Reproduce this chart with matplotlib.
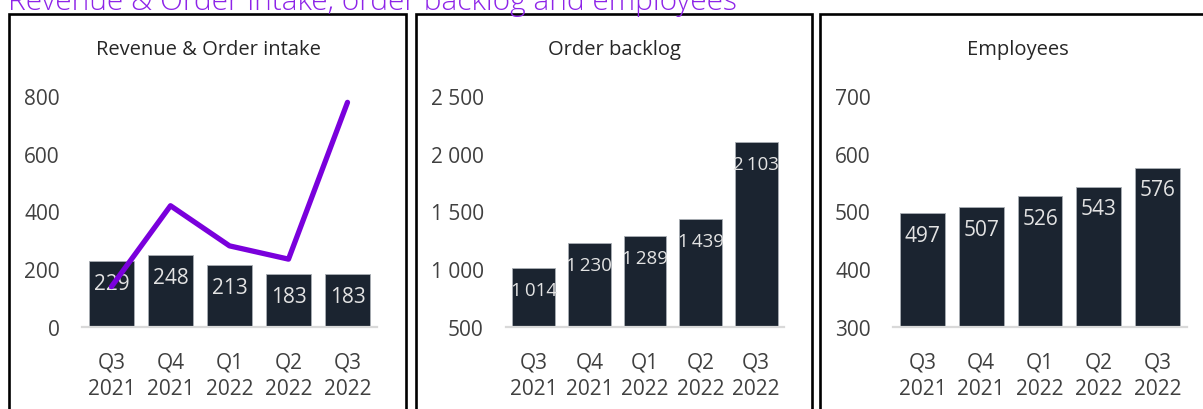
import matplotlib
matplotlib.use('Agg')
import matplotlib.pyplot as plt
from matplotlib.patches import Rectangle
from matplotlib.ticker import FuncFormatter
import numpy as np

plt.rcParams['font.family'] = ['Open Sans', 'DejaVu Sans']

quarters = ['Q3\n2021', 'Q4\n2021', 'Q1\n2022', 'Q2\n2022', 'Q3\n2022']
revenue = [229, 248, 213, 183, 183]
order_intake = [140, 420, 281, 235, 778]
backlog = [1014, 1230, 1289, 1439, 2103]
employees = [497, 507, 526, 543, 576]

W, H = 1203, 410
BAR = '#1b2430'
TXT = '#404040'
PURPLE = '#7a00dc'

fig = plt.figure(figsize=(W / 100, H / 100), dpi=100)


def px_axes(left, right, y0, y1):
    # y0 = pixel row of axis bottom, y1 = pixel row of top tick
    return fig.add_axes([left / W, (H - y0) / H, (right - left) / W, (y0 - y1) / H])


def fmt(v, pos=None, sep=' '):
    return f'{int(v):,}'.replace(',', sep)


def style(ax, lo, hi, step):
    ax.set_xlim(-0.5, 4.5)
    ax.set_ylim(lo, hi)
    ax.set_yticks(np.arange(lo, hi + 1, step))
    ax.yaxis.set_major_formatter(FuncFormatter(fmt))
    ax.set_xticks(range(len(quarters)))
    ax.set_xticklabels(quarters, linespacing=1.3)
    ax.tick_params(axis='y', length=0, pad=16, labelsize=15, labelcolor=TXT)
    ax.tick_params(axis='x', length=0, pad=18, labelsize=15, labelcolor=TXT)
    for s in ['top', 'right', 'left']:
        ax.spines[s].set_visible(False)
    ax.spines['bottom'].set_color('#d9d9d9')
    ax.spines['bottom'].set_linewidth(1.6)
    ax.patch.set_alpha(0)


def bars(ax, vals, lo, width, size=15):
    x = np.arange(len(vals))
    b = ax.bar(x, np.array(vals) - lo, width, bottom=lo, color=BAR,
               edgecolor='#a9aeb4', linewidth=0.6, zorder=2)
    for xi, v in zip(x, vals):
        ax.annotate(fmt(v, sep='\u2009'), (xi, v), xytext=(0, -16), textcoords='offset points',
                    ha='center', va='center', fontsize=size, color='#e3e3e3', zorder=4)
    return b


# Revenue & order intake
ax1 = px_axes(82, 377, 328, 97)
style(ax1, 0, 800, 200)
bars(ax1, revenue, 0, 0.76)
ax1.plot(range(len(order_intake)), order_intake, color=PURPLE, lw=3.8,
         solid_capstyle='round', solid_joinstyle='round', zorder=5)

# Order backlog
ax2 = px_axes(506, 784, 328, 97)
style(ax2, 500, 2500, 500)
bars(ax2, backlog, 500, 0.77, size=13.5)

# Employees
ax3 = px_axes(893, 1187, 328, 97)
style(ax3, 300, 700, 100)
bars(ax3, employees, 300, 0.76)

# panel frames and titles
panels = [(9, 406, 'Revenue & Order intake', 208),
          (416, 812, 'Order backlog', 614),
          (820, 1220, 'Employees', 1018)]
for x0, x1, title, tx in panels:
    fig.patches.append(Rectangle((x0 / W, -20 / H), (x1 - x0) / W, (H - 15 + 20) / H,
                                 transform=fig.transFigure, fill=False,
                                 edgecolor='black', linewidth=1.9, clip_on=False))
    fig.text(tx / W, 1 - 50 / H, title, ha='center', va='center',
             fontsize=14.5, color='#262626')

fig.text(8 / W, 1 - 10 / H, 'Revenue & Order intake, order backlog and employees',
         ha='left', va='baseline', fontsize=21.5, color='#8e24e8', fontweight='light')

fig.savefig('out.png', dpi=100)
